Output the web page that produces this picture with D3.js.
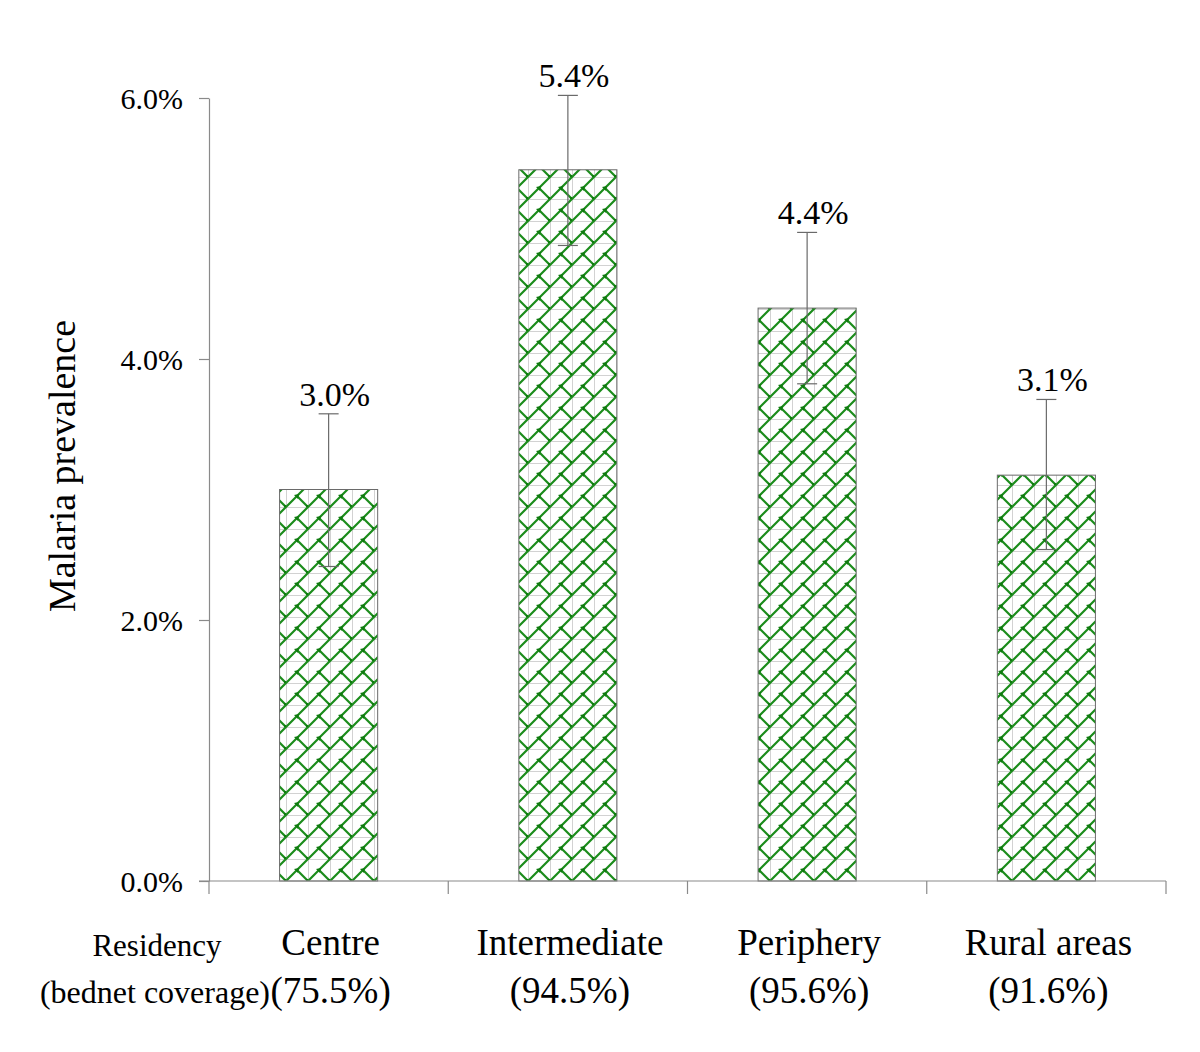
<!DOCTYPE html>
<html>
<head>
<meta charset="utf-8">
<script src="https://cdn.jsdelivr.net/npm/d3@7"></script>
<style>
  html, body { margin: 0; padding: 0; background: #fff; }
  svg { display: block; }
  svg text { font-family: "Liberation Serif", "Times New Roman", serif; fill: #000; }
</style>
</head>
<body>
<svg id="chart" width="1200" height="1052"></svg>
<script>
// ---- data ----
const categories = ["Centre", "Intermediate", "Periphery", "Rural areas"];
const coverage = ["(75.5%)", "(94.5%)", "(95.6%)", "(91.6%)"];
const prevalence = [0.0300, 0.0545, 0.0439, 0.0311];
const ciLower = [0.0241, 0.0487, 0.0381, 0.0254];
const ciUpper = [0.0358, 0.0602, 0.0497, 0.0369];
const valueLabels = ["3.0%", "5.4%", "4.4%", "3.1%"];
const yTicks = [0, 0.02, 0.04, 0.06];
const yTickLabels = ["0.0%", "2.0%", "4.0%", "6.0%"];

(function () {
const svg = d3.select("#chart");
const mLeft = 209, mRight = 1166, mTop = 98, mBottom = 881;

const x = d3.scaleBand().domain(categories).range([mLeft, mRight]).padding(0);
const y = d3.scaleLinear().domain([0, 0.06]).range([mBottom, mTop]);
const barW = x.bandwidth() * 0.41;

// pattern fill (diagonal brick look)
const green = "#1b8c1b";
const defs = svg.append("defs");
const pat = defs.append("pattern")
  .attr("id", "brick")
  .attr("patternUnits", "userSpaceOnUse")
  .attr("width", 22).attr("height", 22)
  .attr("x", 0).attr("y", mBottom);
pat.append("rect").attr("width", 22).attr("height", 22).attr("fill", "#fff");
pat.append("line").attr("x1", 0.5).attr("y1", 0).attr("x2", 0.5).attr("y2", 22)
  .attr("stroke", "#d2d2d2").attr("stroke-width", 1);
pat.append("line").attr("x1", 0).attr("y1", 0.5).attr("x2", 22).attr("y2", 0.5)
  .attr("stroke", "#d2d2d2").attr("stroke-width", 1);
pat.append("path").attr("d", "M-2,24 L24,-2 M-2,2 L2,-2 M20,24 L24,20")
  .attr("stroke", green).attr("stroke-width", 2.2).attr("fill", "none");
pat.append("path").attr("d", "M11,11 L22,22")
  .attr("stroke", green).attr("stroke-width", 2.2).attr("fill", "none");
pat.append("path").attr("d", "M8,10 L13,9 L12,14 Z").attr("fill", "#0f7a0f");
pat.append("rect").attr("x", 20).attr("y", 20).attr("width", 3.5).attr("height", 3.5).attr("fill", "#0f7a0f");

const axisColor = "#8a8a8a";

// y axis
const yAxis = d3.axisLeft(y).tickValues(yTicks)
  .tickFormat((d, i) => yTickLabels[i]).tickSize(10).tickSizeOuter(0);
const gy = svg.append("g").attr("transform", `translate(${mLeft},0)`).call(yAxis)
  .attr("font-family", null).attr("font-size", null);
gy.select(".domain").attr("stroke", axisColor).attr("stroke-width", 1.2);
gy.selectAll(".tick line").attr("stroke", axisColor).attr("stroke-width", 1.2);
gy.selectAll(".tick text").style("font-size", "30px")
  .attr("x", -26).attr("dy", "0.35em");

// bars
const data = categories.map((c, i) => ({
  c, v: prevalence[i], lo: ciLower[i], hi: ciUpper[i], lab: valueLabels[i]
}));
const cx = d => x(d.c) + x.bandwidth() / 2;

svg.append("g").selectAll("rect").data(data).join("rect")
  .attr("x", d => cx(d) - barW / 2)
  .attr("y", d => y(d.v))
  .attr("width", barW)
  .attr("height", d => y(0) - y(d.v))
  .attr("fill", "url(#brick)")
  .attr("stroke", "#6a6a6a").attr("stroke-width", 1);

// x axis (band boundaries)
svg.append("line").attr("x1", mLeft - 10).attr("x2", mRight)
  .attr("y1", mBottom).attr("y2", mBottom)
  .attr("stroke", axisColor).attr("stroke-width", 1.2);
const bounds = categories.map(c => x(c)).concat([x(categories[categories.length - 1]) + x.bandwidth()]);
svg.append("g").selectAll("line").data(bounds).join("line")
  .attr("x1", d => d).attr("x2", d => d)
  .attr("y1", mBottom).attr("y2", mBottom + 13)
  .attr("stroke", axisColor).attr("stroke-width", 1.2);

// error bars
const eb = svg.append("g").attr("stroke", "#6a6a6a").attr("stroke-width", 1.2);
eb.selectAll("line.v").data(data).join("line").attr("class", "v")
  .attr("x1", cx).attr("x2", cx).attr("y1", d => y(d.hi)).attr("y2", d => y(d.lo));
eb.selectAll("line.t").data(data).join("line").attr("class", "t")
  .attr("x1", d => cx(d) - 10).attr("x2", d => cx(d) + 10)
  .attr("y1", d => y(d.hi)).attr("y2", d => y(d.hi));
eb.selectAll("line.b").data(data).join("line").attr("class", "b")
  .attr("x1", d => cx(d) - 10).attr("x2", d => cx(d) + 10)
  .attr("y1", d => y(d.lo)).attr("y2", d => y(d.lo));

// value labels
svg.append("g").selectAll("text").data(data).join("text")
  .attr("x", d => cx(d) + 6)
  .attr("y", d => y(d.hi) - 8)
  .attr("text-anchor", "middle")
  .style("font-size", "34px")
  .text(d => d.lab);

// category labels
const cat = svg.append("g").attr("text-anchor", "middle");
cat.selectAll("text.n").data(categories).join("text").attr("class", "n")
  .attr("x", c => x(c) + x.bandwidth() / 2 + 2).attr("y", 955)
  .style("font-size", "37px").text(c => c);
cat.selectAll("text.p").data(categories).join("text").attr("class", "p")
  .attr("x", c => x(c) + x.bandwidth() / 2 + 2).attr("y", 1003)
  .style("font-size", "37px").text((c, i) => coverage[i]);

// row titles
svg.append("text").attr("x", 157).attr("y", 956).attr("text-anchor", "middle")
  .style("font-size", "31px").text("Residency");
svg.append("text").attr("x", 270).attr("y", 1003).attr("text-anchor", "end")
  .style("font-size", "32px").text("(bednet coverage)");

// y axis title
svg.append("text")
  .attr("transform", "translate(75,466) rotate(-90)")
  .attr("text-anchor", "middle")
  .style("font-size", "38px")
  .text("Malaria prevalence");
})();
</script>
</body>
</html>
